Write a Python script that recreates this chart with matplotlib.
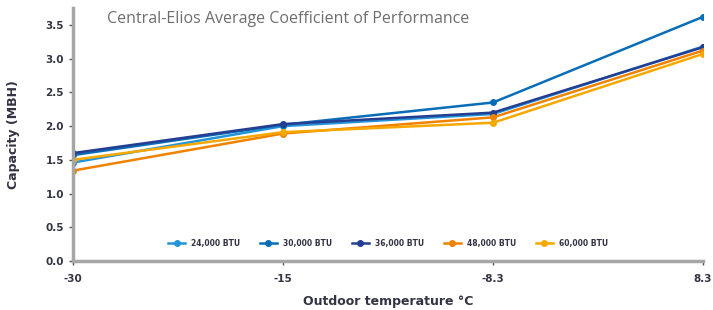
import numpy as np
import matplotlib.pyplot as plt

temps = ["-30", "-15", "-8.3", "8.3"]
series = ["24,000 BTU", "30,000 BTU", "36,000 BTU", "48,000 BTU", "60,000 BTU"]
cap_24k = [1.46, 2.00, 2.18, 3.18]
cap_30k = [1.57, 2.02, 2.35, 3.62]
cap_36k = [1.60, 2.03, 2.20, 3.17]
cap_48k = [1.34, 1.89, 2.13, 3.12]
cap_60k = [1.50, 1.91, 2.05, 3.07]
values = [cap_24k, cap_30k, cap_36k, cap_48k, cap_60k]
colors = ["#2394D8", "#0A6DB8", "#233E93", "#F08200", "#F7A800"]

fig = plt.figure(figsize=(7.13, 3.10), dpi=100)
ax = fig.add_axes([0.1024, 0.158, 0.8836, 0.816])

x = np.arange(len(temps))
for name, vals, c in zip(series, values, colors):
    ax.plot(x, vals, color=c, lw=1.8, marker="o", ms=4, label=name)

ax.set_xlim(0, 3)
ax.set_ylim(0, 3.75)
ax.set_xticks(x)
ax.set_xticklabels(temps)
ax.set_yticks(np.arange(0, 3.51, 0.5))
ax.set_yticklabels(["%.1f" % v for v in np.arange(0, 3.51, 0.5)])

for s in ["top", "right"]:
    ax.spines[s].set_visible(False)
for s in ["left", "bottom"]:
    ax.spines[s].set_color("#A6A6A6")
    ax.spines[s].set_linewidth(2.5)
ax.tick_params(axis="both", colors="#555555", length=3, width=1,
               labelsize=7.5, labelcolor="#333344")
ax.tick_params(axis="x", pad=6)
for t in ax.get_xticklabels() + ax.get_yticklabels():
    t.set_fontweight("semibold")

ax.set_xlabel("Outdoor temperature °C", fontsize=9, fontweight="bold",
              color="#333344", labelpad=8)
ax.set_ylabel("Capacity (MBH)", fontsize=9, fontweight="bold",
              color="#333344", labelpad=18)

ax.text(0.054, 0.955, "Central-Elios Average Coefficient of Performance",
        transform=ax.transAxes, fontsize=11.5, color="#6E6E6E",
        va="center", ha="left", family="Open Sans")

leg = ax.legend(loc="lower center", bbox_to_anchor=(0.5, 0.025), ncol=5,
                frameon=False, fontsize=5.5, handlelength=2.2,
                columnspacing=2.6, markerscale=1.0)
for t in leg.get_texts():
    t.set_fontweight("bold")
    t.set_color("#333344")

fig.savefig("out.png", dpi=100)
